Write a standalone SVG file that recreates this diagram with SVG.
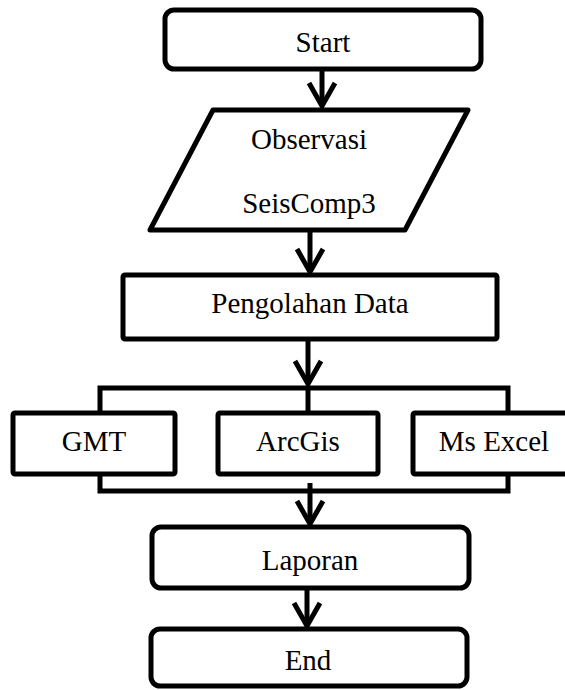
<svg xmlns="http://www.w3.org/2000/svg" width="565" height="690" viewBox="0 0 565 690">
<style>
.box{fill:#fff;stroke:#000;stroke-width:5;stroke-linejoin:round}
.ln{fill:none;stroke:#000;stroke-width:5}
.t{font-family:"Liberation Serif","Times New Roman",serif;font-size:29px;fill:#000;text-anchor:middle}
</style>
<defs>
<marker id="ah" markerUnits="userSpaceOnUse" markerWidth="40" markerHeight="40" viewBox="-30 -20 40 40" refX="0" refY="0" orient="auto">
<path d="M-23,-13 L0,0 L-23,13" fill="none" stroke="#000" stroke-width="5" stroke-linejoin="miter"/>
</marker>
</defs>
<rect width="565" height="690" fill="#fff"/>
<g id="connectors">
<line class="ln" x1="322" y1="69" x2="322" y2="106" marker-end="url(#ah)"/>
<line class="ln" x1="310" y1="231" x2="310" y2="272" marker-end="url(#ah)"/>
<line class="ln" x1="308" y1="339" x2="308" y2="384" marker-end="url(#ah)"/>
<polyline class="ln" points="100,414 100,388 508,388 508,414"/>
<line class="ln" x1="308" y1="388" x2="308" y2="414"/>
<polyline class="ln" points="100,472 100,491 508,491 508,472"/>
<line class="ln" x1="310" y1="483" x2="310" y2="524" marker-end="url(#ah)"/>
<line class="ln" x1="307" y1="588" x2="307" y2="626" marker-end="url(#ah)"/>
</g>
<g id="start">
<rect class="box" x="165" y="10" width="316" height="59" rx="9"/>
<text class="t" x="323" y="52">Start</text>
</g>
<g id="observasi">
<polygon class="box" points="213,110 468,110 405,230 150,230"/>
<text class="t" x="309" y="149">Observasi</text>
<text class="t" x="309" y="213">SeisComp3</text>
</g>
<g id="pengolahan">
<rect class="box" x="123" y="275" width="374" height="64" rx="2"/>
<text class="t" x="310" y="313">Pengolahan Data</text>
</g>
<g id="gmt">
<rect class="box" x="13" y="413" width="162" height="61" rx="2"/>
<text class="t" x="94" y="451">GMT</text>
</g>
<g id="arcgis">
<rect class="box" x="218" y="413" width="160" height="61" rx="2"/>
<text class="t" x="298" y="451">ArcGis</text>
</g>
<g id="msexcel">
<rect class="box" x="413" y="413" width="162" height="61" rx="2"/>
<text class="t" x="494" y="451">Ms Excel</text>
</g>
<g id="laporan">
<rect class="box" x="152" y="527" width="317" height="61" rx="9"/>
<text class="t" x="310" y="570">Laporan</text>
</g>
<g id="end">
<rect class="box" x="151" y="629" width="316" height="57" rx="9"/>
<text class="t" x="308" y="670">End</text>
</g>
</svg>
